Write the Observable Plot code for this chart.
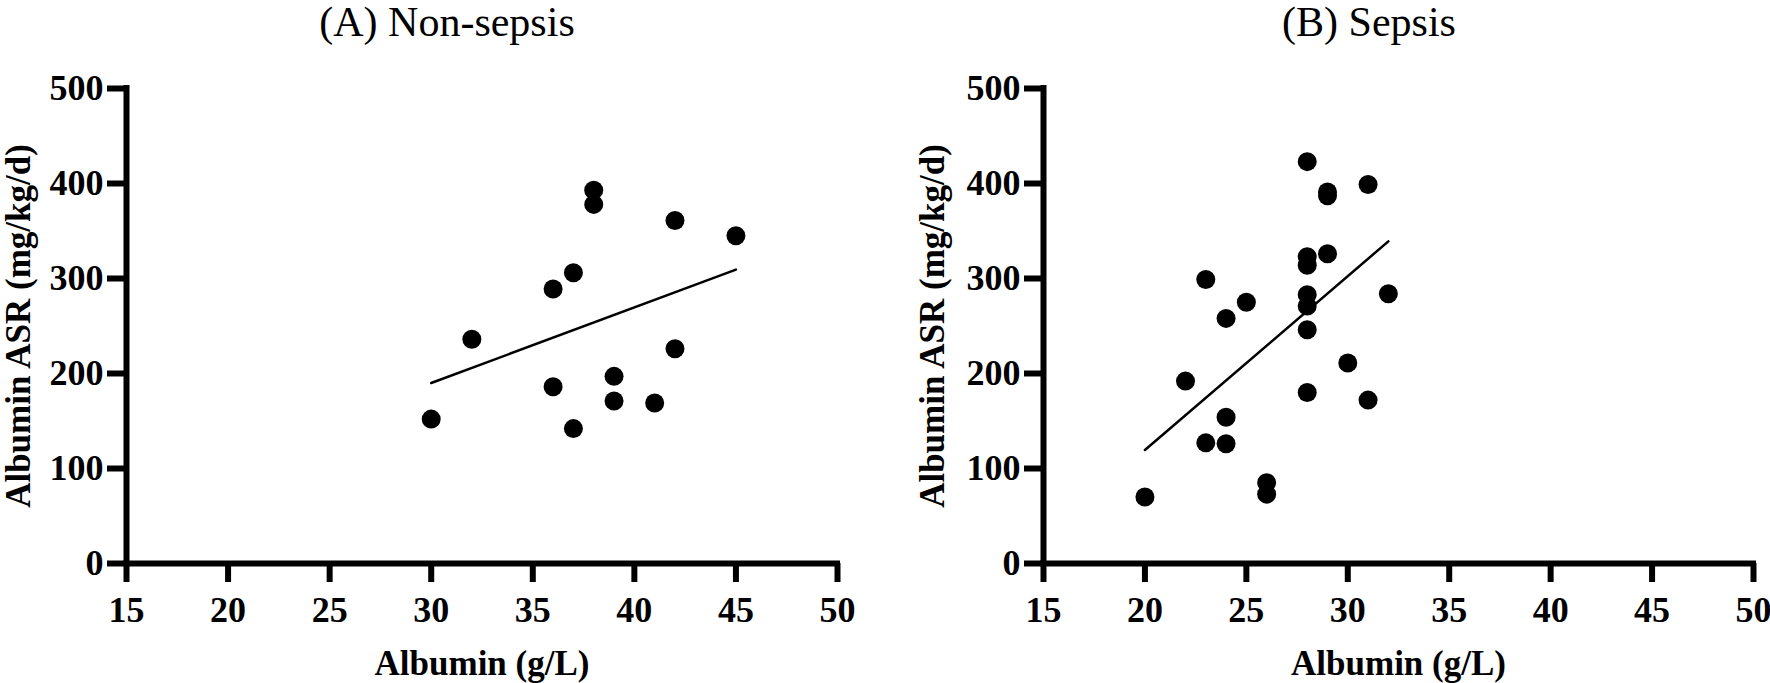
<!DOCTYPE html>
<html>
<head>
<meta charset="utf-8">
<script src="https://cdn.jsdelivr.net/npm/d3@7"></script>
<script src="https://cdn.jsdelivr.net/npm/@observablehq/plot@0.6"></script>
<style>
  html, body { margin: 0; padding: 0; background: #fff; }
  #wrap { position: relative; width: 1770px; height: 683px; overflow: hidden; background: #fff; }
  .title { position: absolute; top: 0; height: 50px; line-height: 44px; font-size: 42px;
           font-family: "Liberation Serif", "Times New Roman", serif; color: #000;
           transform: translateX(-50%); white-space: nowrap; }
  .panel { position: absolute; top: 50px; }
</style>
</head>
<body>
<div id="wrap">
  <div class="title" id="tA" style="left:447px"></div>
  <div class="title" id="tB" style="left:1369px"></div>
  <div class="panel" id="pA" style="left:0px"></div>
  <div class="panel" id="pB" style="left:885px"></div>
</div>
<script>
// ---- data ----
const titles = ["(A) Non-sepsis", "(B) Sepsis"];
const xLabel = "Albumin (g/L)";
const yLabel = "Albumin ASR (mg/kg/d)";
const xTicks = [15, 20, 25, 30, 35, 40, 45, 50];
const yTicks = [0, 100, 200, 300, 400, 500];

const nonSepsisAlbumin = [30, 32, 36, 37, 38, 38, 42, 45, 36, 37, 39, 39, 41, 42];
const nonSepsisASR     = [152, 236, 289, 306, 393, 378, 361, 345, 186, 142, 197, 171, 169, 226];

const sepsisAlbumin = [28, 29, 29, 31, 28, 28, 29, 23, 25, 24, 28, 28, 28, 32, 30, 22, 28, 31, 24, 23, 24, 26, 26, 20];
const sepsisASR     = [423, 391, 387, 399, 323, 314, 326, 299, 275, 258, 283, 271, 246, 284, 211, 192, 180, 172, 154, 127, 126, 85, 73, 70];

const FONT = '"Liberation Serif", "Times New Roman", serif';

function panel(xs, ys, marginLeft, marginRight, yLabelDx) {
  const data = xs.map((x, i) => ({x, y: ys[i]}));
  return Plot.plot({
    width: 885,
    height: 633,
    marginLeft,
    marginRight,
    marginTop: 38,
    marginBottom: 120,
    style: {fontFamily: FONT, color: "#000", background: "#fff", overflow: "visible"},
    x: {domain: [15, 50]},
    y: {domain: [0, 500]},
    marks: [
      Plot.axisX({ticks: xTicks, tickSize: 19, tickPadding: 14, fontSize: 36, fontWeight: "bold",
                  strokeWidth: 6, stroke: "#000", fill: "#000", label: null}),
      Plot.axisY({ticks: yTicks, tickSize: 19, tickPadding: 4, fontSize: 36, fontWeight: "bold",
                  strokeWidth: 6, stroke: "#000", fill: "#000", label: null}),
      Plot.ruleX([15], {stroke: "#000", strokeWidth: 6, strokeLinecap: "square"}),
      Plot.ruleY([0], {stroke: "#000", strokeWidth: 6, strokeLinecap: "square"}),
      Plot.linearRegressionY(data, {x: "x", y: "y", ci: 0, stroke: "#000", strokeWidth: 2.5}),
      Plot.dot(data, {x: "x", y: "y", r: 9.5, fill: "#000", stroke: "none"}),
      Plot.text([xLabel], {text: d => d, frameAnchor: "bottom", dy: 100, lineAnchor: "middle",
                           textAnchor: "middle", fontSize: 35, fontWeight: "bold", fill: "#000"}),
      Plot.text([yLabel], {text: d => d, frameAnchor: "left", dx: yLabelDx, rotate: -90, lineAnchor: "middle",
                           textAnchor: "middle", fontSize: 35, fontWeight: "bold", fill: "#000"})
    ]
  });
}

document.getElementById("tA").textContent = titles[0];
document.getElementById("tB").textContent = titles[1];
document.getElementById("pA").appendChild(panel(nonSepsisAlbumin, nonSepsisASR, 126, 48, -108));
document.getElementById("pB").appendChild(panel(sepsisAlbumin, sepsisASR, 158, 17, -111));
</script>
</body>
</html>
